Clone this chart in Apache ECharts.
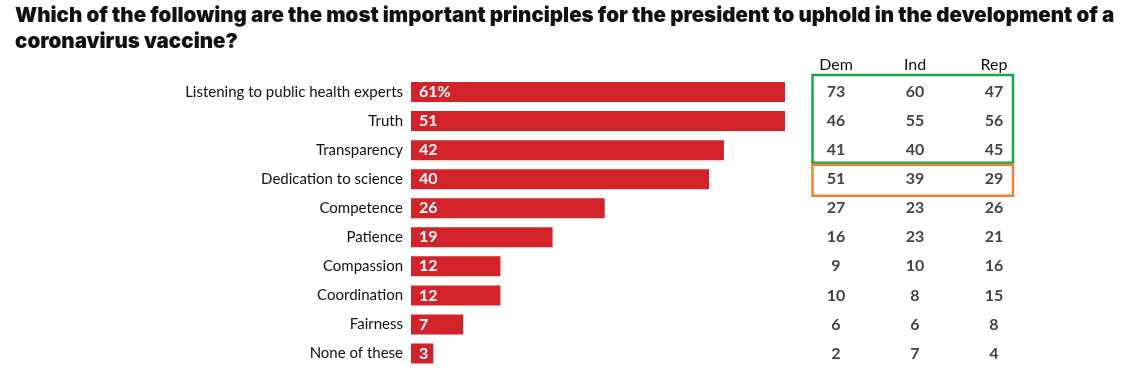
<!DOCTYPE html>
<html><head><meta charset="utf-8">
<script src="https://cdn.jsdelivr.net/npm/echarts@6/dist/echarts.min.js"></script>
<style>html,body{margin:0;padding:0;background:#fff}#c{width:1133px;height:368px}</style>
</head><body><div id="c"></div>
<script>
const categories = ['Listening to public health experts','Truth','Transparency','Dedication to science','Competence','Patience','Compassion','Coordination','Fairness','None of these'];
const totals = [61,51,42,40,26,19,12,12,7,3];
const parties = ['Dem','Ind','Rep'];
const dem = [73,46,41,51,27,16,9,10,6,2];
const ind = [60,55,40,39,23,23,10,8,6,7];
const rep = [47,56,45,29,26,21,16,15,8,4];
const titleLine1 = 'Which of the following are the most important principles for the president to uphold in the development of a';
const titleLine2 = 'coronavirus vaccine?';

const tableData = [];
[dem, ind, rep].forEach((arr, c) => arr.forEach((v, r) => tableData.push([parties[c], categories[r], v])));

// fit the heavy title font to the reference line width
const titleFont = 'Inter, Lato, sans-serif';
const ctx = document.createElement('canvas').getContext('2d');
ctx.font = '900 20px ' + titleFont;
const w20 = ctx.measureText(titleLine1).width;
const titleSize = Math.min(21, Math.max(16, 20 * 1100 / w20));

const chart = echarts.init(document.getElementById('c'));
const font = 'Lato, "Open Sans", sans-serif';
chart.setOption({
  animation: false,
  title: { text: titleLine1 + '\n' + titleLine2, left: 10, top: -2, textStyle: { fontFamily: titleFont, fontWeight: 900, fontSize: titleSize, lineHeight: 26, color: '#111' } },
  grid: [
    { left: 411, top: 77.5, width: 374, height: 291 },
    { left: 796.5, top: 77.5, width: 237, height: 291 }
  ],
  xAxis: [
    { type: 'value', gridIndex: 0, min: 0, max: 50.2, show: false },
    { type: 'category', gridIndex: 1, data: parties, position: 'top', axisLine: { show: false }, axisTick: { show: false },
      axisLabel: { margin: 5, fontFamily: font, fontSize: 16, color: '#111' } }
  ],
  yAxis: [
    { type: 'category', gridIndex: 0, data: categories, inverse: true, axisLine: { show: false }, axisTick: { show: false },
      axisLabel: { margin: 8, fontFamily: font, fontSize: 15, color: '#111' } },
    { type: 'category', gridIndex: 1, data: categories, inverse: true, show: false }
  ],
  series: [
    { type: 'bar', xAxisIndex: 0, yAxisIndex: 0, data: totals, barWidth: 20, clip: true,
      itemStyle: { color: '#d2232a' },
      label: { show: true, position: 'insideLeft', distance: 8, color: '#fff', fontFamily: font, fontWeight: 'bold', fontSize: 16,
        formatter: p => p.dataIndex === 0 ? p.value + '%' : String(p.value) } },
    { type: 'scatter', xAxisIndex: 1, yAxisIndex: 1, data: tableData, symbolSize: 0, encode: { x: 0, y: 1 },
      label: { show: true, position: 'inside', color: '#111', fontFamily: font, fontWeight: 'bold', fontSize: 16,
        formatter: p => String(p.value[2]) } }
  ]
});

function px(col, row) { return chart.convertToPixel({ gridIndex: 1 }, [parties[col], categories[row]]); }
const a = px(0, 0), b = px(2, 2), c = px(2, 3);
const x0 = a[0] - 23.5, x1 = b[0] + 19;
chart.setOption({
  graphic: [
    { type: 'rect', shape: { x: x0, y: a[1] - 17, width: x1 - x0, height: (b[1] + 12.5) - (a[1] - 17) },
      style: { fill: 'none', stroke: '#1aa54b', lineWidth: 2.5 } },
    { type: 'rect', shape: { x: x0, y: c[1] - 14.5, width: x1 - x0, height: 31 },
      style: { fill: 'none', stroke: '#ec8339', lineWidth: 2.5 } }
  ]
});
</script></body></html>
